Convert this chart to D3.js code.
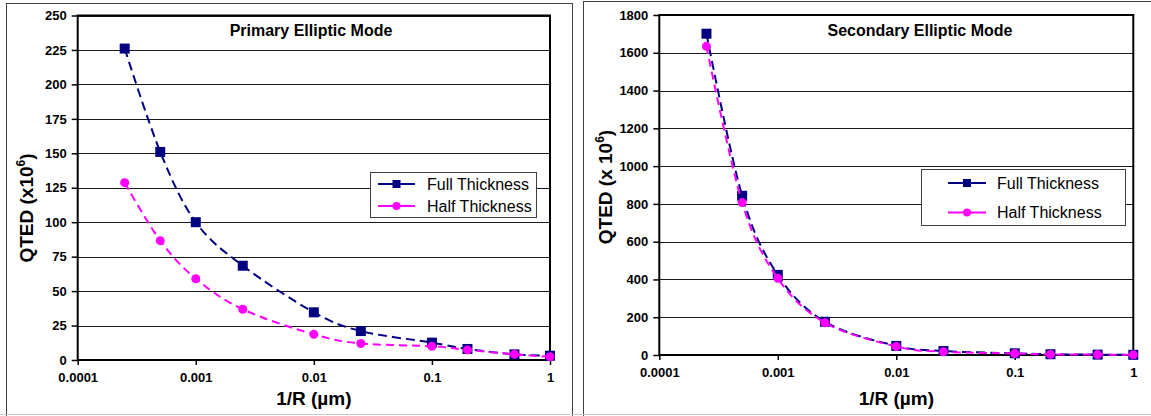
<!DOCTYPE html>
<html>
<head>
<meta charset="utf-8">
<script src="https://cdn.jsdelivr.net/npm/d3@7"></script>
<style>
  html, body { margin: 0; padding: 0; background: #fff; }
  svg { display: block; }
  text { font-family: "Liberation Sans", Arial, sans-serif; fill: #000; }
</style>
</head>
<body>
<svg id="chart" width="1151" height="416"></svg>
<script>
// ---------------- DATA ----------------
const xValues = [0.00025, 0.0005, 0.001, 0.0025, 0.01, 0.025, 0.1, 0.2, 0.5, 1];
const seriesNames = ["Full Thickness", "Half Thickness"];

const primaryFull = [226, 151, 100, 68.4, 34.6, 21, 12.6, 8, 4.1, 3.1];
const primaryHalf = [128.7, 86.6, 59, 36.8, 18.6, 12, 10, 7.3, 4.1, 2.4];

const secondaryFull = [1701, 843, 424, 176, 48, 21, 9, 4, 2, 1];
const secondaryHalf = [1634, 807, 406, 171, 45, 17, 8, 3, 2, 1];

const xTickValues = [0.0001, 0.001, 0.01, 0.1, 1];
const xTickLabels = ["0.0001", "0.001", "0.01", "0.1", "1"];
const primaryYTicks = [0, 25, 50, 75, 100, 125, 150, 175, 200, 225, 250];
const secondaryYTicks = [0, 200, 400, 600, 800, 1000, 1200, 1400, 1600, 1800];

const chartTitles = ["Primary Elliptic Mode", "Secondary Elliptic Mode"];
const xAxisTitle = "1/R (\u00B5m)";

// ---------------- STYLE ----------------
const seriesColors = ["#000080", "#FF00FF"];
const seriesSymbols = ["square", "circle"];

const svg = d3.select("#chart");
svg.append("rect").attr("x", 0).attr("y", 0).attr("width", 1151).attr("height", 416).attr("fill", "#fff");

function drawPanel(cfg) {
  const g = svg.append("g");
  // outer panel border
  g.append("rect")
    .attr("x", cfg.panel[0]).attr("y", cfg.panel[1])
    .attr("width", cfg.panel[2]).attr("height", cfg.panel[3])
    .attr("fill", "#fff").attr("stroke", "#404040").attr("stroke-width", 1);

  const x = d3.scaleLog().domain([xTickValues[0], xTickValues[xTickValues.length - 1]])
    .range([cfg.plot.x0, cfg.plot.x1]);
  const y = d3.scaleLinear().domain([cfg.yTicks[0], cfg.yTicks[cfg.yTicks.length - 1]])
    .range([cfg.plot.y1, cfg.plot.y0]);

  // gridlines
  g.append("g").selectAll("line").data(cfg.yTicks).join("line")
    .attr("x1", cfg.plot.x0).attr("x2", cfg.plot.x1)
    .attr("y1", d => Math.round(y(d)) + 0.5).attr("y2", d => Math.round(y(d)) + 0.5)
    .attr("stroke", "#1a1a1a").attr("stroke-width", 1);

  // y axis
  const yAxis = d3.axisLeft(y).tickValues(cfg.yTicks).tickSize(6).tickPadding(5).tickFormat(d3.format("d"));
  const ya = g.append("g").attr("transform", `translate(${cfg.plot.x0},0)`).call(yAxis);
  ya.select(".domain").remove();
  ya.selectAll(".tick line").attr("stroke", "#000").attr("stroke-width", 1.5);
  ya.selectAll(".tick text").attr("font-size", 13).attr("font-weight", "bold")
    .attr("font-family", "'Liberation Sans', Arial, sans-serif").attr("fill", "#000");

  // x axis
  const xAxis = d3.axisBottom(x).tickValues(xTickValues).tickSize(5).tickPadding(8)
    .tickFormat((d, i) => xTickLabels[i]);
  const xa = g.append("g").attr("transform", `translate(0,${cfg.plot.y1})`).call(xAxis);
  xa.select(".domain").remove();
  xa.selectAll(".tick line").attr("stroke", "#000").attr("stroke-width", 1.5);
  xa.selectAll(".tick text").attr("font-size", 13).attr("font-weight", "bold")
    .attr("font-family", "'Liberation Sans', Arial, sans-serif").attr("fill", "#000");

  // plot frame
  g.append("rect")
    .attr("x", cfg.plot.x0).attr("y", cfg.plot.y0)
    .attr("width", cfg.plot.x1 - cfg.plot.x0).attr("height", cfg.plot.y1 - cfg.plot.y0)
    .attr("fill", "none").attr("stroke", "#000").attr("stroke-width", 2);

  // chart title
  g.append("text").attr("x", cfg.titleX).attr("y", 36)
    .attr("text-anchor", "middle").attr("font-size", 16).attr("font-weight", "bold")
    .text(cfg.title);

  // x axis title
  g.append("text").attr("x", (cfg.plot.x0 + cfg.plot.x1) / 2).attr("y", 405)
    .attr("text-anchor", "middle").attr("font-size", 19).attr("font-weight", "bold")
    .text(xAxisTitle);

  // y axis title
  const yt = g.append("text")
    .attr("transform", `translate(${cfg.yTitle[0]},${cfg.yTitle[1]}) rotate(-90)`)
    .attr("text-anchor", "middle").attr("font-size", 19).attr("font-weight", "bold");
  yt.append("tspan").text(cfg.yTitleText);
  yt.append("tspan").attr("dy", -8).attr("font-size", 12).text("6");
  yt.append("tspan").attr("dy", 8).text(")");

  // series
  const line = d3.line().x(d => x(d[0])).y(d => y(d[1])).curve(d3.curveCardinal.tension(0));
  cfg.series.forEach((vals, si) => {
    const pts = xValues.map((xv, i) => [xv, vals[i]]);
    g.append("path").datum(pts).attr("d", line)
      .attr("fill", "none").attr("stroke", seriesColors[si]).attr("stroke-width", 2)
      .attr("stroke-dasharray", si === 0 ? "9,5" : "8,5");
    const mg = g.append("g");
    if (seriesSymbols[si] === "square") {
      mg.selectAll("rect").data(pts).join("rect")
        .attr("x", d => x(d[0]) - 5).attr("y", d => y(d[1]) - 5)
        .attr("width", 10).attr("height", 10).attr("fill", seriesColors[si]);
    } else {
      mg.selectAll("circle").data(pts).join("circle")
        .attr("cx", d => x(d[0])).attr("cy", d => y(d[1])).attr("r", 4.5)
        .attr("fill", seriesColors[si]);
    }
  });

  // legend
  const L = cfg.legend;
  const lg = g.append("g");
  lg.append("rect").attr("x", L.x).attr("y", L.y).attr("width", L.w).attr("height", L.h)
    .attr("fill", "#fff").attr("stroke", "#404040").attr("stroke-width", 1);
  seriesNames.forEach((name, si) => {
    const cy = L.rows[si];
    lg.append("line").attr("x1", L.lx0).attr("x2", L.lx1).attr("y1", cy).attr("y2", cy)
      .attr("stroke", seriesColors[si]).attr("stroke-width", 2);
    const mx = (L.lx0 + L.lx1) / 2;
    if (seriesSymbols[si] === "square") {
      lg.append("rect").attr("x", mx - 4).attr("y", cy - 4).attr("width", 8).attr("height", 8)
        .attr("fill", seriesColors[si]);
    } else {
      lg.append("circle").attr("cx", mx).attr("cy", cy).attr("r", 4).attr("fill", seriesColors[si]);
    }
    lg.append("text").attr("x", L.tx).attr("y", cy).attr("dy", "0.35em")
      .attr("font-size", 16).attr("fill", "#222").text(name);
  });
}

drawPanel({
  panel: [6.5, 3.5, 566, 430],
  plot: { x0: 77.7, x1: 550, y0: 15.5, y1: 360 },
  yTicks: primaryYTicks,
  series: [primaryFull, primaryHalf],
  title: chartTitles[0],
  titleX: 311,
  yTitle: [33, 208],
  yTitleText: "QTED (x10",
  legend: { x: 370.5, y: 172.5, w: 166, h: 45, rows: [184, 206], lx0: 378, lx1: 415, tx: 427 }
});

drawPanel({
  panel: [583.5, 1.5, 600, 430],
  plot: { x0: 659.3, x1: 1133.3, y0: 15, y1: 355 },
  yTicks: secondaryYTicks,
  series: [secondaryFull, secondaryHalf],
  title: chartTitles[1],
  titleX: 920,
  yTitle: [612, 187],
  yTitleText: "QTED (x 10",
  legend: { x: 921.5, y: 169.5, w: 204, h: 56, rows: [183, 212.5], lx0: 948, lx1: 986, tx: 997 }
});

// bottom light edge
svg.append("line").attr("x1", 0).attr("x2", 1151).attr("y1", 414.5).attr("y2", 414.5)
  .attr("stroke", "#c8c8c8").attr("stroke-width", 1);
</script>
</body>
</html>
